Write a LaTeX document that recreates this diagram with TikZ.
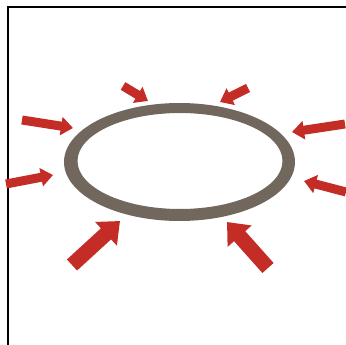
\documentclass[tikz,border=0pt]{standalone}
\usetikzlibrary{arrows.meta}
\definecolor{push}{RGB}{196,44,38}
\definecolor{ring}{RGB}{113,103,93}
\tikzset{
  inarrow/.style={push,line width=9pt,-{Triangle[width=18pt,length=12pt]}},
  bigarrow/.style={push,line width=15pt,-{Triangle[width=31pt,length=19pt]}}
}
\begin{document}
\begin{tikzpicture}[x=1pt,y=-1pt]
  \useasboundingbox (0,0) rectangle (346,345);
  % frame, only left and top edges visible
  \draw[line width=1.4pt] (8,345) -- (8,7) -- (346,7);
  % the ring
  \fill[ring,even odd rule] (179.5,162) ellipse (115.5 and 59)
                            (180,161) ellipse (102.5 and 48);
  % pressure from all round
  \draw[inarrow] (123,86) -- (148,101);
  \draw[inarrow] (248,88) -- (220,102);
  \draw[inarrow] (22,120) -- (73,128);
  \draw[inarrow] (345,124) -- (292,132);
  \draw[inarrow] (6,184) -- (53,175);
  \draw[inarrow] (346,192) -- (304,181);
  \draw[bigarrow] (72,265) -- (120,221);
  \draw[bigarrow] (268,268) -- (227,222);
\end{tikzpicture}
\end{document}
